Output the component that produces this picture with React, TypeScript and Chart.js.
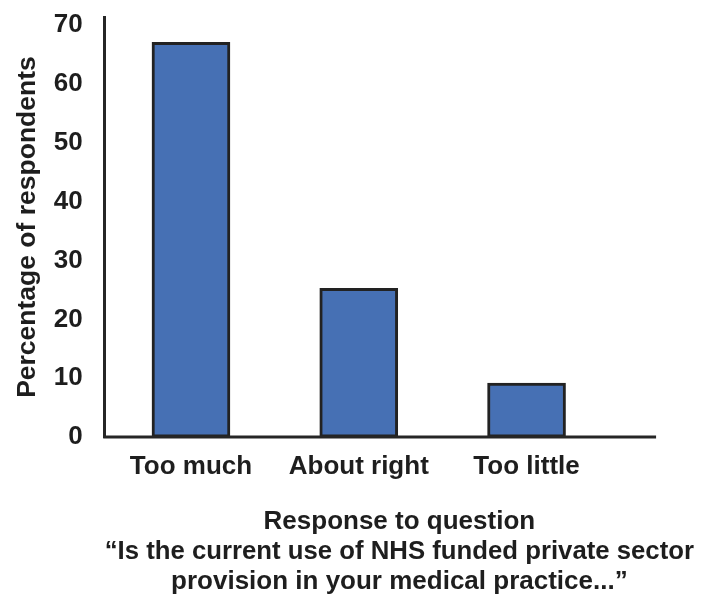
import { useEffect, useRef } from 'react';
import { Chart, registerables } from 'chart.js';

Chart.register(...registerables);

// Data
const categories = ['Too much', 'About right', 'Too little'];
const percentages = [67.1, 25.3, 9.2];
const yTicks = [0, 10, 20, 30, 40, 50, 60, 70];
const yTitle = 'Percentage of respondents';
const xTitle = [
  'Response to question',
  '\u201CIs the current use of NHS funded private sector',
  'provision in your medical practice...\u201D',
];

const FONT = "'Liberation Sans', Arial, sans-serif";
const TEXT = '#1e1e1e';
const AXIS = '#262626';

// x-axis line stops short of the right edge of the plot area
const xAxisEnd = 2.772;

const baselinePlugin = {
  id: 'baseline',
  afterDatasetsDraw(chart: Chart) {
    const { ctx, scales } = chart;
    const x = scales.x;
    const y = scales.y;
    const yPx = y.getPixelForValue(0);
    ctx.save();
    ctx.strokeStyle = AXIS;
    ctx.lineWidth = 3;
    ctx.beginPath();
    ctx.moveTo(x.left - 1.5, yPx);
    ctx.lineTo(x.getPixelForValue(xAxisEnd), yPx);
    ctx.stroke();
    ctx.restore();
  },
};

const App = () => {
  const canvasRef = useRef<HTMLCanvasElement>(null);

  useEffect(() => {
    if (!canvasRef.current) return;
    const chart = new Chart(canvasRef.current, {
      type: 'bar',
      data: {
        datasets: [
          {
            data: categories.map((_, i) => ({ x: i, y: percentages[i] })),
            backgroundColor: '#4670B4',
            borderColor: '#222222',
            borderWidth: 3,
            borderSkipped: false,
            barThickness: 78,
          },
        ],
      },
      plugins: [baselinePlugin],
      options: {
        responsive: true,
        maintainAspectRatio: false,
        animation: false,
        layout: { padding: { top: 0, right: 16, bottom: 0, left: 0 } },
        plugins: {
          legend: { display: false },
          tooltip: { enabled: false },
        },
        scales: {
          x: {
            type: 'linear',
            offset: false,
            min: -0.514,
            max: 2.998,
            grid: { display: false, drawTicks: false },
            border: { display: false },
            afterBuildTicks: (scale: any) => {
              scale.ticks = categories.map((_, i) => ({ value: i }));
            },
            ticks: {
              padding: 14,
              color: TEXT,
              font: { family: FONT, size: 26, weight: 'bold' },
              callback: (value: any) => categories[value as number] ?? '',
            },
            title: {
              display: true,
              text: xTitle,
              color: TEXT,
              font: { family: FONT, size: 26, weight: 'bold', lineHeight: 1.15 },
              padding: { top: 11, bottom: 2 },
            },
          },
          y: {
            min: 0,
            max: 71.4,
            grid: { display: false, drawTicks: false },
            border: { display: true, color: AXIS, width: 3 },
            afterBuildTicks: (scale: any) => {
              scale.ticks = yTicks.map((v) => ({ value: v }));
            },
            // the wide tick padding would otherwise push the plot top down
            afterFit: (scale: any) => {
              scale.paddingTop = 17;
            },
            ticks: {
              padding: 22,
              color: TEXT,
              font: { family: FONT, size: 26, weight: 'bold' },
            },
            title: {
              display: true,
              text: yTitle,
              color: TEXT,
              font: { family: FONT, size: 26.5, weight: 'bold' },
              padding: { top: 12, bottom: -12 },
            },
          },
        },
      },
    });
    return () => chart.destroy();
  }, []);

  return (
    <div style={{ position: 'absolute', left: 0, top: 0, width: 710, height: 599, background: '#fff' }}>
      <canvas ref={canvasRef}></canvas>
    </div>
  );
};

export default App;
